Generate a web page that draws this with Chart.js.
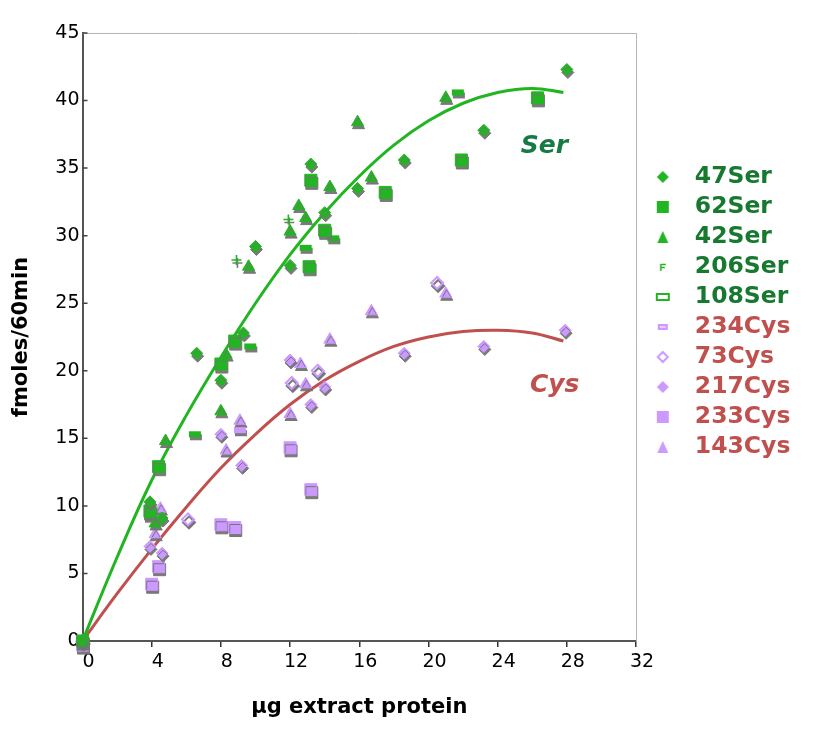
<!DOCTYPE html>
<html>
<head>
<meta charset="utf-8">
<script src="https://cdn.jsdelivr.net/npm/chart.js@4.4.1/dist/chart.umd.min.js"></script>
<style>
  html, body { margin: 0; padding: 0; background: #fff; }
</style>
</head>
<body>
<canvas id="chart" width="836" height="731"></canvas>
<script>
// series names, in legend order
const seriesNames = ['47Ser', '62Ser', '42Ser', '206Ser', '108Ser', '234Cys', '73Cys', '217Cys', '233Cys', '143Cys'];

// [µg extract protein, fmoles/60min]
const ser47 = [[0, 0], [3.9, 10.3], [4.6, 9.1], [6.6, 21.3], [8.0, 19.3], [9.3, 22.8], [10.0, 29.2], [12.0, 27.8], [13.2, 35.3], [14.0, 31.7], [15.9, 33.5], [18.6, 35.6], [23.2, 37.8], [28.0, 42.3]];
const ser62 = [[0, 0], [3.9, 9.6], [4.4, 12.9], [8.0, 20.5], [8.8, 22.2], [13.1, 27.7], [13.2, 34.1], [14.0, 30.4], [17.5, 33.2], [21.9, 35.6], [26.3, 40.2]];
const ser42 = [[0, 0], [4.2, 8.7], [4.8, 14.8], [8.0, 17.0], [8.3, 21.2], [9.6, 27.7], [12.0, 30.3], [12.5, 32.2], [12.9, 31.3], [14.3, 33.6], [15.9, 38.4], [16.7, 34.3], [21.0, 40.2]];
const ser206 = [[0, 0], [8.9, 28.2], [11.9, 31.2]];
const ser108 = [[0, 0], [3.9, 9.2], [6.5, 15.3], [9.7, 21.8], [12.9, 29.1], [14.5, 29.8], [21.7, 40.6]];
const cys234 = [[0, 0], [9.1, 15.6]];
const cys73 = [[0, 0], [6.1, 9.0], [12.1, 19.1], [13.6, 20.0], [20.5, 26.5]];
const cys217 = [[0, 0], [3.9, 7.0], [4.6, 6.5], [8.0, 15.3], [9.2, 13.0], [12.0, 20.8], [13.2, 17.5], [14.0, 18.8], [18.6, 21.3], [23.2, 21.8], [27.9, 23.0]];
const cys233 = [[0, -0.3], [4.0, 4.2], [4.4, 5.5], [8.0, 8.6], [8.8, 8.4], [12.0, 14.3], [13.2, 11.2]];
const cys143 = [[0, 0], [4.2, 7.9], [4.5, 9.8], [8.3, 14.1], [9.1, 16.3], [12.0, 16.8], [12.6, 20.5], [12.9, 19.0], [14.3, 22.3], [16.7, 24.4], [21.0, 25.7]];
const seriesData = [ser47, ser62, ser42, ser206, ser108, cys234, cys73, cys217, cys233, cys143];

// fitted curves
const fitX = [0, 2, 4, 6, 8, 10, 12, 14, 16, 18, 20, 22, 24, 26, 27.8];
const serFitY = [0, 6.2, 11.9, 16.7, 21.0, 25.0, 28.6, 31.7, 34.4, 36.7, 38.5, 39.8, 40.6, 40.9, 40.6];
const cysFitY = [0, 3.5, 6.8, 9.9, 12.8, 15.3, 17.5, 19.3, 20.7, 21.8, 22.5, 22.9, 23.0, 22.8, 22.2];

const curveNames = ['Ser', 'Cys'];

const serGreen = '#22b522';
const cysPurple = '#cc99ff';
const serText = '#17792f';
const cysText = '#c0504d';
const font = 'Verdana, "DejaVu Sans", sans-serif';

Chart.defaults.font.family = font;
Chart.defaults.color = '#000';

// marker look for each series (plot)
const markers = [
  { pointStyle: 'rectRot', radius: 6, bg: serGreen, border: serGreen, width: 1 },
  { pointStyle: 'rect', radius: 8.5, bg: serGreen, border: serGreen, width: 1 },
  { pointStyle: 'triangle', radius: 7, bg: serGreen, border: serGreen, width: 1 },
  { pointStyle: 'cross', radius: 5, bg: serGreen, border: serGreen, width: 1.6 },
  { pointStyle: 'line', radius: 6, bg: serGreen, border: serGreen, width: 6 },
  { pointStyle: 'line', radius: 6, bg: cysPurple, border: cysPurple, width: 6 },
  { pointStyle: 'rectRot', radius: 6, bg: '#fff', border: cysPurple, width: 2 },
  { pointStyle: 'rectRot', radius: 6, bg: cysPurple, border: cysPurple, width: 1 },
  { pointStyle: 'rect', radius: 8.5, bg: cysPurple, border: cysPurple, width: 1 },
  { pointStyle: 'triangle', radius: 7, bg: cysPurple, border: cysPurple, width: 1 }
];

// small icons for the legend (no shadow there)
const iconKinds = ['diamond', 'square', 'triangle', 'cross', 'barOpen', 'bar', 'diamondOpen', 'diamond', 'square', 'triangle'];

function makeIcon(kind, color) {
  const c = document.createElement('canvas');
  c.width = 16; c.height = 16;
  const g = c.getContext('2d');
  g.fillStyle = color; g.strokeStyle = color; g.lineWidth = 2;
  g.beginPath();
  if (kind === 'diamond') {
    g.moveTo(8, 2); g.lineTo(14, 8); g.lineTo(8, 14); g.lineTo(2, 8); g.closePath(); g.fill();
  } else if (kind === 'diamondOpen') {
    g.moveTo(8, 3); g.lineTo(13, 8); g.lineTo(8, 13); g.lineTo(3, 8); g.closePath();
    g.fillStyle = '#fff'; g.fill(); g.stroke();
  } else if (kind === 'square') {
    g.fillRect(2, 2, 12, 12);
  } else if (kind === 'triangle') {
    g.moveTo(8, 2); g.lineTo(13.5, 14); g.lineTo(2.5, 14); g.closePath(); g.fill();
  } else if (kind === 'cross') {
    g.lineWidth = 1.5;
    g.moveTo(6, 5); g.lineTo(6, 12); g.moveTo(6, 5.5); g.lineTo(11, 5.5); g.moveTo(6, 8.5); g.lineTo(10, 8.5);
    g.stroke();
  } else if (kind === 'barOpen') {
    g.strokeRect(2, 5, 12, 6);
  } else if (kind === 'bar') {
    g.fillRect(3, 5, 10, 6);
    g.fillStyle = 'rgba(255,255,255,0.5)';
    g.fillRect(5, 7, 6, 2);
  }
  return c;
}

const legendIcons = iconKinds.map((k, i) => makeIcon(k, i < 5 ? serGreen : cysPurple));

const datasets = seriesNames.map((name, i) => ({
  label: name,
  data: seriesData[i],
  pointStyle: markers[i].pointStyle,
  pointRadius: markers[i].radius,
  pointHoverRadius: markers[i].radius,
  backgroundColor: markers[i].bg,
  borderColor: markers[i].border,
  pointBorderWidth: markers[i].width,
  clip: false
}));

datasets.push({
  label: 'Ser fit',
  data: fitX.map((x, i) => ({ x: x, y: serFitY[i] })),
  showLine: true, isFit: true,
  borderColor: serGreen, borderWidth: 3, pointRadius: 0, tension: 0.4, fill: false
});
datasets.push({
  label: 'Cys fit',
  data: fitX.map((x, i) => ({ x: x, y: cysFitY[i] })),
  showLine: true, isFit: true,
  borderColor: cysText, borderWidth: 3, pointRadius: 0, tension: 0.4, fill: false
});

// grey drop shadow under the markers only
const markerShadow = {
  id: 'markerShadow',
  beforeDatasetDraw(chart, args) {
    if (chart.data.datasets[args.index].isFit) return;
    const ctx = chart.ctx;
    ctx.save();
    ctx.shadowColor = 'rgba(115,115,115,0.95)';
    ctx.shadowOffsetX = 1;
    ctx.shadowOffsetY = 3;
    ctx.shadowBlur = 0;
  },
  afterDatasetDraw(chart, args) {
    if (chart.data.datasets[args.index].isFit) return;
    chart.ctx.restore();
  }
};

// light frame on top/right and inward ticks on the y axis
const frame = {
  id: 'frame',
  beforeDatasetsDraw(chart) {
    const { ctx, chartArea: a, scales: { y } } = chart;
    ctx.save();
    ctx.strokeStyle = '#b4b4b4';
    ctx.lineWidth = 1;
    ctx.beginPath();
    ctx.moveTo(a.left, a.top + 0.5);
    ctx.lineTo(a.right + 0.5, a.top + 0.5);
    ctx.lineTo(a.right + 0.5, a.bottom);
    ctx.stroke();
    ctx.strokeStyle = '#444';
    ctx.lineWidth = 1.5;
    ctx.beginPath();
    y.ticks.forEach(t => {
      const py = y.getPixelForValue(t.value);
      ctx.moveTo(a.left, py);
      ctx.lineTo(a.left + 5, py);
    });
    ctx.stroke();
    ctx.restore();
  }
};

// "Ser" / "Cys" labels next to the curves
const labelAt = [{ x: 26.7, y: 36.6, color: '#167a45' }, { x: 27.3, y: 18.9, color: cysText }];
const curveLabels = {
  id: 'curveLabels',
  afterDatasetsDraw(chart) {
    const { ctx, scales: { x, y } } = chart;
    ctx.save();
    ctx.font = 'italic bold 25px ' + font;
    ctx.textAlign = 'center';
    ctx.textBaseline = 'middle';
    curveNames.forEach((t, i) => {
      ctx.fillStyle = labelAt[i].color;
      ctx.fillText(t, x.getPixelForValue(labelAt[i].x), y.getPixelForValue(labelAt[i].y));
    });
    ctx.restore();
  }
};

new Chart(document.getElementById('chart'), {
  type: 'scatter',
  data: { datasets: datasets },
  options: {
    responsive: false,
    animation: false,
    devicePixelRatio: 1,
    layout: { padding: { top: 33, right: 35.6, bottom: 0, left: 0 } },
    scales: {
      x: {
        type: 'linear', min: 0, max: 32,
        ticks: { stepSize: 4, font: { size: 19 }, color: '#000', labelOffset: 6, padding: 4 },
        grid: { drawOnChartArea: false, drawTicks: true, tickLength: 6, color: '#333', lineWidth: 1.5 },
        border: { display: true, color: '#555', width: 2 },
        title: { display: true, text: 'μg extract protein', font: { size: 21, weight: 'bold' }, color: '#000', padding: { top: 0, bottom: 10.4 } },
        afterFit(scale) { scale.height = 90; }
      },
      y: {
        type: 'linear', min: 0, max: 45,
        ticks: { stepSize: 5, font: { size: 19 }, color: '#000', padding: 3 },
        grid: { drawOnChartArea: false, drawTicks: false },
        border: { display: true, color: '#555', width: 2 },
        title: { display: true, text: 'fmoles/60min', font: { size: 21, weight: 'bold' }, color: '#000', padding: { top: 9.4, bottom: 0 } },
        afterFit(scale) { scale.width = 82.5; }
      }
    },
    plugins: {
      tooltip: { enabled: false },
      legend: {
        position: 'right',
        align: 'start',
        title: { display: true, text: '', font: { size: 10 }, padding: { top: 113.75, bottom: 0 } },
        labels: {
          usePointStyle: true,
          pointStyleWidth: 40.5,
          boxHeight: 12,
          padding: 6.5,
          font: { size: 23.5, weight: 'bold' },
          generateLabels: () => seriesNames.map((name, i) => ({
            text: name,
            fontColor: i < 5 ? serText : cysText,
            pointStyle: legendIcons[i],
            fillStyle: markers[i].bg,
            strokeStyle: markers[i].border,
            lineWidth: 0,
            hidden: false,
            datasetIndex: i
          }))
        }
      }
    }
  },
  plugins: [markerShadow, frame, curveLabels]
});
</script>
</body>
</html>
